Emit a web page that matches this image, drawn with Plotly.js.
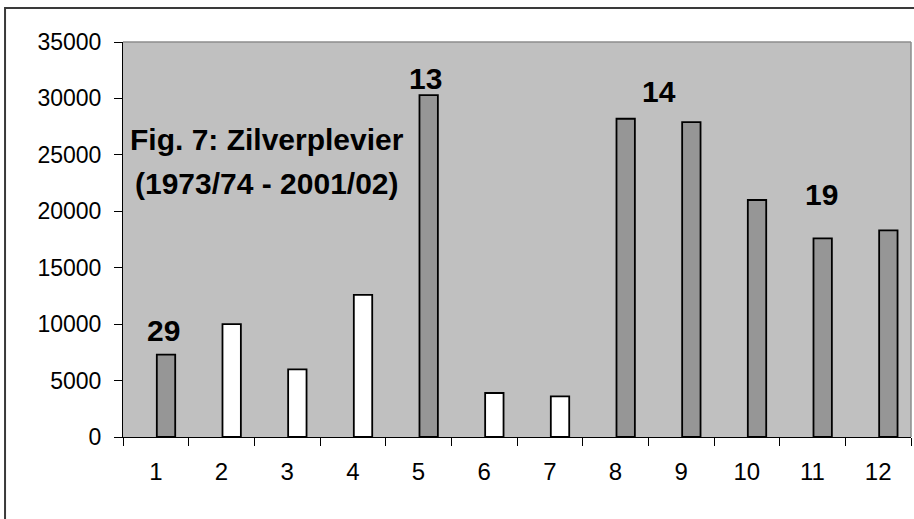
<!DOCTYPE html>
<html>
<head>
<meta charset="utf-8">
<script src="https://cdn.plot.ly/plotly-3.0.1.min.js"></script>
<style>
html,body{margin:0;padding:0;background:#fff;}
#chart{width:914px;height:519px;}
</style>
</head>
<body>
<div id="chart"></div>
<script>
// Data
const categories = ["1","2","3","4","5","6","7","8","9","10","11","12"];
const values = [7300, 10000, 6000, 12600, 30300, 3900, 3600, 28200, 27900, 21000, 17600, 18300];
const groups = ["grey","white","white","white","grey","white","white","grey","grey","grey","grey","grey"];
const yTicks = [0, 5000, 10000, 15000, 20000, 25000, 30000, 35000];
// Bar labels: text, x position (category index), y value
const labelTexts = ["29", "13", "14", "19"];
const labelX = [0.12, 4.11, 7.66, 10.13];
const labelY = [9480, 31810, 30600, 21530];
const titleLines = ["Fig. 7: Zilverplevier", "(1973/74 - 2001/02)"];

const colorMap = {grey: "#969696", white: "#FFFFFF"};
const FONT = "Liberation Sans, Arial, Helvetica, sans-serif";

const trace = {
  type: "bar",
  x: categories,
  y: values,
  width: 0.28,
  offset: 0.015,
  marker: {
    color: groups.map(g => colorMap[g]),
    line: {color: "#000000", width: 1.8}
  },
  hoverinfo: "x+y"
};

const annotations = labelTexts.map((t, i) => ({
  x: labelX[i], y: labelY[i], xref: "x", yref: "y",
  text: "<b>" + t + "</b>", showarrow: false,
  xanchor: "center", yanchor: "middle",
  font: {family: FONT, size: 30, color: "#000"}
}));
const titleY = [0.752, 0.643];
titleLines.forEach((t, i) => {
  annotations.push({
    x: 0.1827, y: titleY[i], xref: "paper", yref: "paper",
    text: "<b>" + t + "</b>", showarrow: false,
    xanchor: "center", yanchor: "middle",
    font: {family: FONT, size: 30, color: "#000"}
  });
});

const layout = {
  width: 914, height: 519,
  margin: {l: 123, r: 3, t: 42, b: 82, pad: 0},
  paper_bgcolor: "#FFFFFF",
  plot_bgcolor: "#C0C0C0",
  showlegend: false,
  font: {family: FONT, color: "#000"},
  xaxis: {
    type: "category",
    categoryorder: "array", categoryarray: categories,
    range: [-0.5, 11.5],
    tickson: "boundaries",
    ticks: "outside", ticklen: 8, tickwidth: 1, tickcolor: "#000",
    showline: true, linecolor: "#000", linewidth: 1,
    showgrid: false, zeroline: false,
    tickfont: {family: FONT, size: 24, color: "#000"},
    ticklabelstandoff: 13,
    fixedrange: true
  },
  yaxis: {
    range: [0, 35000],
    tickvals: yTicks,
    ticktext: yTicks.map(String),
    ticks: "outside", ticklen: 8, tickwidth: 1, tickcolor: "#000",
    showline: true, linecolor: "#000", linewidth: 1,
    showgrid: false, zeroline: false,
    tickfont: {family: FONT, size: 23, color: "#000"},
    ticklabelstandoff: 8,
    fixedrange: true
  },
  annotations: annotations,
  shapes: [
    // plot frame top and right (grey)
    {type: "line", xref: "paper", yref: "paper", x0: 0, x1: 1, y0: 1, y1: 1,
     line: {color: "#8C8C8C", width: 1.5}},
    {type: "line", xref: "paper", yref: "paper", x0: 1, x1: 1, y0: 0, y1: 1,
     line: {color: "#8C8C8C", width: 1.5}},
    // outer chart border (left and top visible)
    {type: "rect", xref: "paper", yref: "paper", x0: -0.1497, x1: 1.2, y0: -0.5, y1: 1.0861,
     line: {color: "#3A3A3A", width: 2}, fillcolor: "rgba(0,0,0,0)"}
  ]
};

Plotly.newPlot("chart", [trace], layout, {displayModeBar: false, staticPlot: true});
</script>
</body>
</html>
